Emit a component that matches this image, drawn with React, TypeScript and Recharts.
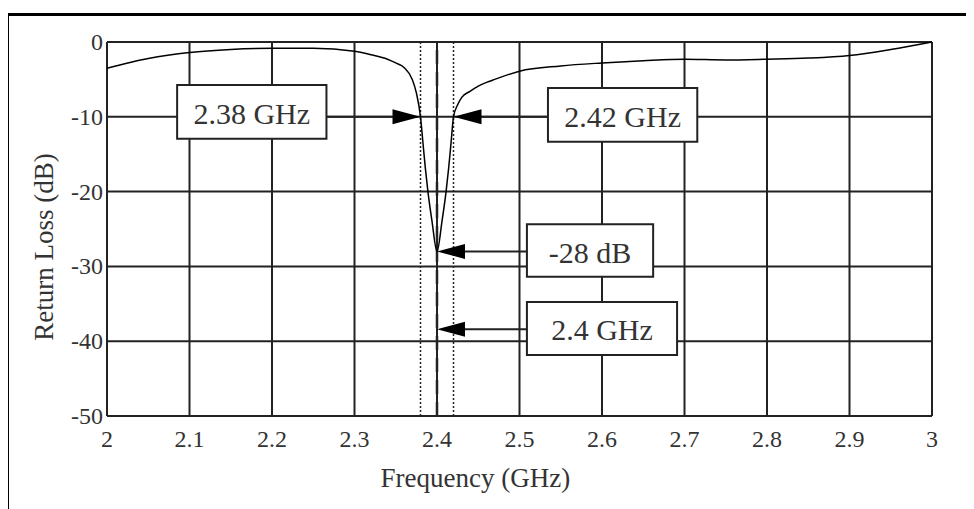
import React from 'react';
import {
  LineChart, Line, XAxis, YAxis, CartesianGrid, ReferenceLine, ReferenceArea, Label,
} from 'recharts';

// measured return loss of the antenna, GHz / dB
const FREQ = [
  2.0, 2.05, 2.1, 2.15, 2.2, 2.25, 2.3, 2.32, 2.34, 2.35, 2.36, 2.37, 2.375,
  2.38, 2.383, 2.386, 2.389, 2.394, 2.4, 2.406, 2.411, 2.414, 2.417, 2.42, 2.425, 2.43, 2.44,
  2.45, 2.46, 2.47, 2.5, 2.55, 2.6, 2.65, 2.7, 2.75, 2.8, 2.85, 2.9, 2.95, 3.0,
];
const RETURN_LOSS = [
  -3.5, -2.2, -1.4, -1.0, -0.85, -0.85, -1.25, -1.7, -2.3, -2.8, -3.4, -5.0, -6.8,
  -10, -13.5, -17, -20, -24, -28, -24, -20, -17, -13.5, -10, -8.4, -7.4, -6.6,
  -5.9, -5.4, -5.0, -3.9, -3.2, -2.8, -2.5, -2.3, -2.4, -2.3, -2.15, -1.8, -1.0, 0,
];

const X_TICKS = [2, 2.1, 2.2, 2.3, 2.4, 2.5, 2.6, 2.7, 2.8, 2.9, 3];
const Y_TICKS = [0, -10, -20, -30, -40, -50];

// -10 dB band edges, resonance and its depth
const BAND_EDGES = [2.38, 2.42];
const CENTER_FREQ = 2.4;
const MIN_LOSS = -28;
const BAND_LEVEL = -10;

const LABELS = ['2.38 GHz', '2.42 GHz', '-28 dB', '2.4 GHz'];

// callout boxes (data coords): [x1, x2, y1, y2]
const BOXES = [
  [2.085, 2.266, -5.75, -12.95],
  [2.5345, 2.7155, -6.15, -13.35],
  [2.509, 2.662, -24.35, -31.4],
  [2.509, 2.691, -34.75, -41.85],
];
const CALLOUT_Y = -38.4;

const FONT = '"Liberation Serif", "Times New Roman", serif';
const INK = '#222';
const TEXT = '#333';

const data = FREQ.map((f, i) => ({ f, rl: RETURN_LOSS[i] }));

const XTick = ({ x, y, payload }: any) => (
  <text x={x} y={y} dy={31} textAnchor="middle" fontSize={24} fontFamily={FONT} fill={TEXT}>
    {payload.value}
  </text>
);

const YTick = ({ x, y, payload }: any) => (
  <text x={x - 4} y={y} dy={8} textAnchor="end" fontSize={24} fontFamily={FONT} fill={TEXT}>
    {payload.value}
  </text>
);

// line with a filled triangular head at (x2, y2)
const Arrow = ({ x1, y1, x2, y2 }: any) => {
  const len = 28;
  const half = 7.5;
  const dx = x2 - x1;
  const dy = y2 - y1;
  const d = Math.hypot(dx, dy) || 1;
  const ux = dx / d;
  const uy = dy / d;
  const bx = x2 - ux * len;
  const by = y2 - uy * len;
  const pts = `${x2},${y2} ${bx - uy * half},${by + ux * half} ${bx + uy * half},${by - ux * half}`;
  return (
    <g>
      <line x1={x1} y1={y1} x2={bx} y2={by} stroke={INK} strokeWidth={2} />
      <polygon points={pts} fill="#000" />
    </g>
  );
};

const boxLabel = (text: string) => ({ viewBox }: any) => (
  <text
    x={viewBox.x + viewBox.width / 2}
    y={viewBox.y + viewBox.height / 2}
    dy={12}
    textAnchor="middle"
    fontSize={30}
    fontFamily={FONT}
    fill={TEXT}
  >
    {text}
  </text>
);

export default function App() {
  const arrows = [
    [BOXES[0][1], BAND_LEVEL, BAND_EDGES[0], BAND_LEVEL],
    [BOXES[1][0], BAND_LEVEL, BAND_EDGES[1], BAND_LEVEL],
    [BOXES[2][0], MIN_LOSS, CENTER_FREQ, MIN_LOSS],
    [BOXES[3][0], CALLOUT_Y, CENTER_FREQ, CALLOUT_Y],
  ];

  return (
    <div style={{ position: 'relative', width: 966, height: 501 }}>
      <style>{'html{overflow:hidden}'}</style>
      <LineChart
        width={966}
        height={493}
        data={data}
        margin={{ top: 34, right: 42, bottom: 45, left: 39 }}
      >
        <CartesianGrid stroke={INK} strokeWidth={2} />
        <XAxis
          dataKey="f"
          type="number"
          domain={[2, 3]}
          ticks={X_TICKS}
          interval={0}
          height={40}
          tickSize={0}
          tickMargin={0}
          axisLine={false}
          tickLine={false}
          tick={<XTick />}
        >
          <Label
            content={({ viewBox }: any) => (
              <text
                x={viewBox.x + viewBox.width * 0.4466}
                y={viewBox.y + 71}
                textAnchor="middle"
                fontSize={27}
                fontFamily={FONT}
                fill={TEXT}
              >
                Frequency (GHz)
              </text>
            )}
          />
        </XAxis>
        <YAxis
          type="number"
          domain={[-50, 0]}
          ticks={Y_TICKS}
          interval={0}
          width={60}
          tickSize={0}
          tickMargin={0}
          axisLine={false}
          tickLine={false}
          tick={<YTick />}
        >
          <Label
            content={({ viewBox }: any) => {
              const cx = viewBox.x + 6;
              const cy = viewBox.y + viewBox.height / 2 + 18;
              return (
                <text
                  x={cx}
                  y={cy}
                  transform={`rotate(-90 ${cx} ${cy})`}
                  textAnchor="middle"
                  fontSize={27}
                  fontFamily={FONT}
                  fill={TEXT}
                >
                  Return Loss (dB)
                </text>
              );
            }}
          />
        </YAxis>

        {BAND_EDGES.map((f) => (
          <ReferenceLine key={f} x={f} stroke={INK} strokeWidth={1.5} strokeDasharray="2 2" />
        ))}
        <ReferenceLine x={CENTER_FREQ} stroke={INK} strokeWidth={2.5} strokeDasharray="14 8" />

        {BOXES.map(([x1, x2, y1, y2], i) => (
          <ReferenceArea
            key={i}
            x1={x1}
            x2={x2}
            y1={y1}
            y2={y2}
            stroke={INK}
            strokeWidth={2}
            fill="#fff"
            fillOpacity={1}
            label={boxLabel(LABELS[i])}
          />
        ))}

        {arrows.map(([xa, ya, xb, yb], i) => (
          <ReferenceLine
            key={`a${i}`}
            segment={[{ x: xa, y: ya }, { x: xb, y: yb }]}
            shape={(p: any) => <Arrow {...p} />}
          />
        ))}

        <Line
          type="monotone"
          dataKey="rl"
          stroke="#000"
          strokeWidth={1.5}
          dot={false}
          isAnimationActive={false}
        />
      </LineChart>
      {/* figure frame: top and left edges, open to the right and bottom */}
      <div
        style={{
          position: 'absolute', left: -2, top: 5, width: 968, height: 496, zIndex: 1,
          pointerEvents: 'none', borderLeft: '3px solid #000', borderTop: '3px solid #000',
          boxSizing: 'border-box',
        }}
      />
    </div>
  );
}
